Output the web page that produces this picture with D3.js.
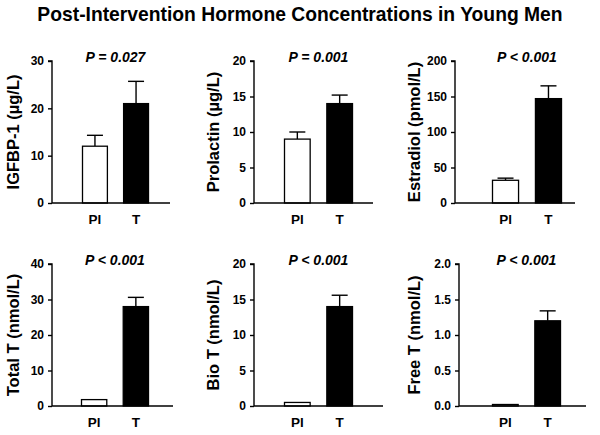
<!DOCTYPE html>
<html><head><meta charset="utf-8">
<script src="https://cdn.jsdelivr.net/npm/d3@7"></script>
<style>body{margin:0;background:#fff}svg{display:block;font-family:"Liberation Sans",Arial,sans-serif}</style>
</head><body><svg id="c" width="600" height="435"></svg>
<script>
// ---- data ----
const chartTitle = "Post-Intervention Hormone Concentrations in Young Men";
const categories = ["Pl", "T"];
const yLabels = ["IGFBP-1 (µg/L)", "Prolactin (µg/L)", "Estradiol (pmol/L)", "Total T (nmol/L)", "Bio T (nmol/L)", "Free T (nmol/L)"];
const pLabels = ["P = 0.027", "P = 0.001", "P < 0.001", "P < 0.001", "P < 0.001", "P < 0.001"];
const placeboMean = [12, 9, 32, 1.8, 0.5, 0.02];
const placeboSE = [2.3, 1.0, 3, 0, 0, 0];
const testoMean = [21, 14, 147, 28, 14, 1.2];
const testoSE = [4.7, 1.2, 18, 2.6, 1.6, 0.14];
const yMax = [30, 20, 200, 40, 20, 2.0];
const yTicks = [[0,10,20,30],[0,5,10,15,20],[0,50,100,150,200],[0,10,20,30,40],[0,5,10,15,20],[0,0.5,1.0,1.5,2.0]];
const tickFormats = ["d","d","d","d","d",".1f"];

// ---- layout ----
const axisX = [52, 254, 455, 52, 254, 459];
const axisEnd = [170, 373, 575, 173, 383, 586];
const barRange = [[82,149],[284,353],[492,562],[81,149],[284,353],[492,561]];
const yRange = [[203,61],[203,61],[203,61],[406,264],[406,264],[406,264]];
const labelX = [13, 213, 414, 13, 213, 414];

const svg = d3.select("#c");
svg.append("text").attr("x", 300).attr("y", 21).attr("text-anchor", "middle")
  .attr("font-size", 19.3).attr("font-weight", "bold").text(chartTitle);

for (let i = 0; i < 6; i++) {
  const g = svg.append("g");
  const x = d3.scaleBand().domain(categories).range(barRange[i]).paddingInner(0.37);
  const y = d3.scaleLinear().domain([0, yMax[i]]).range(yRange[i]);
  const y0 = y(0);
  const vals = [
    {c: categories[0], m: placeboMean[i], e: placeboSE[i], fill: "#fff"},
    {c: categories[1], m: testoMean[i], e: testoSE[i], fill: "#000"}
  ];
  // error bars (upward)
  vals.forEach(d => {
    if (d.e > 0) {
      const cx = x(d.c) + x.bandwidth() / 2;
      g.append("line").attr("x1", cx).attr("x2", cx).attr("y1", y(d.m)).attr("y2", y(d.m + d.e))
        .attr("stroke", "#000").attr("stroke-width", 1.4);
      g.append("line").attr("x1", cx - 8).attr("x2", cx + 8).attr("y1", y(d.m + d.e)).attr("y2", y(d.m + d.e))
        .attr("stroke", "#000").attr("stroke-width", 1.4);
    }
  });
  g.selectAll("rect").data(vals).join("rect")
    .attr("x", d => x(d.c) + 0.5).attr("width", x.bandwidth() - 1)
    .attr("y", d => Math.min(y(d.m), y0 - 1.5)).attr("height", d => Math.max(y0 - y(d.m), 1.5))
    .attr("fill", d => d.fill).attr("stroke", "#000").attr("stroke-width", 1.3);

  // y axis
  const ya = g.append("g").attr("transform", `translate(${axisX[i]},0)`)
    .call(d3.axisLeft(y).tickValues(yTicks[i]).tickFormat(d3.format(tickFormats[i])).tickSize(4).tickPadding(4));
  ya.select(".domain").attr("stroke-width", 1.4).attr("d", `M-4,${y(yMax[i])}H0V${y0}`);
  ya.selectAll(".tick line").attr("stroke-width", 1.4);
  ya.selectAll("text").attr("font-size", 12).attr("font-weight", "bold").attr("font-family", '"Liberation Sans",Arial,sans-serif').attr("fill", "#000");
  // x axis line
  g.append("line").attr("x1", axisX[i]).attr("x2", axisEnd[i]).attr("y1", y0).attr("y2", y0)
    .attr("stroke", "#000").attr("stroke-width", 1.4);
  // category labels
  g.selectAll("text.cat").data(categories).join("text").attr("class", "cat")
    .attr("x", d => x(d) + x.bandwidth() / 2).attr("y", y0 + 21)
    .attr("text-anchor", "middle").attr("font-size", 13.5).attr("font-weight", "bold").text(d => d);
  // p-value
  const mid = (barRange[i][0] + barRange[i][1]) / 2;
  g.append("text").attr("x", mid).attr("y", yRange[i][1] + 1).attr("text-anchor", "middle")
    .attr("font-size", 14).attr("font-weight", "bold").attr("font-style", "italic").text(pLabels[i]);
  // y label
  const cy = (yRange[i][0] + yRange[i][1]) / 2;
  g.append("text").attr("transform", `translate(${labelX[i]},${cy}) rotate(-90)`)
    .attr("dy", "0.35em").attr("text-anchor", "middle")
    .attr("font-size", 16.5).attr("font-weight", "bold").text(yLabels[i]);
}
</script></body></html>
